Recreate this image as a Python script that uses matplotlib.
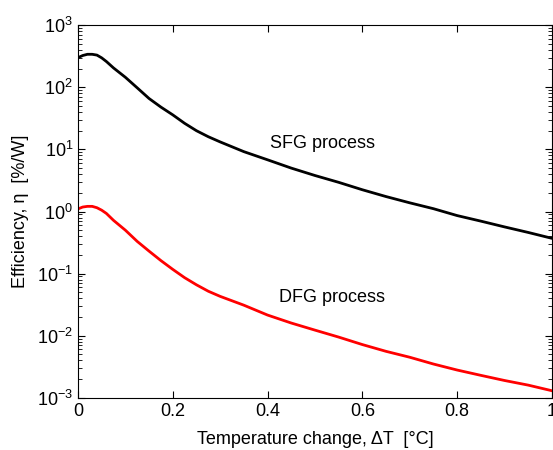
import matplotlib
matplotlib.use('Agg')
import matplotlib.pyplot as plt
from matplotlib.ticker import LogLocator, FixedLocator

plt.rcParams['font.family'] = ['Liberation Sans', 'DejaVu Sans']

# temperature change (deg C)
dT = [0, 0.01, 0.02, 0.03, 0.04, 0.05, 0.06, 0.075, 0.1, 0.125, 0.15, 0.175,
      0.2, 0.225, 0.25, 0.275, 0.3, 0.35, 0.4, 0.45, 0.5, 0.55, 0.6, 0.65,
      0.7, 0.75, 0.8, 0.85, 0.9, 0.95, 1.0]
# SFG efficiency (%/W)
sfg = [300, 325, 340, 340, 330, 298, 260, 205, 145, 98, 66, 48,
       36, 26.3, 20, 16, 13.2, 9.2, 6.8, 5.0, 3.8, 2.95, 2.24, 1.74,
       1.38, 1.11, 0.86, 0.70, 0.565, 0.46, 0.37]
# DFG efficiency (%/W)
dfg = [1.10, 1.18, 1.21, 1.21, 1.15, 1.05, 0.93, 0.72, 0.50, 0.33, 0.23, 0.162,
       0.117, 0.086, 0.066, 0.052, 0.043, 0.031, 0.0215, 0.016, 0.0123, 0.0095,
       0.0072, 0.0056, 0.0045, 0.0035, 0.0028, 0.0023, 0.0019, 0.0016, 0.0013]

fig = plt.figure(figsize=(5.53, 4.5), dpi=100)
ax = fig.add_axes([0.141, 0.116, 0.857, 0.828])

ax.semilogy(dT, sfg, color='black', lw=2)
ax.semilogy(dT, dfg, color='red', lw=2)

ax.set_xlim(0, 1)
ax.set_ylim(1e-3, 1e3)
ax.xaxis.set_major_locator(FixedLocator([0, 0.2, 0.4, 0.6, 0.8, 1.0]))
ax.set_xticklabels(['0', '0.2', '0.4', '0.6', '0.8', '1'])
ax.yaxis.set_major_locator(LogLocator(base=10, numticks=10))
ax.yaxis.set_minor_locator(LogLocator(base=10, subs=range(2, 10), numticks=100))

ax.tick_params(which='both', direction='in', top=True, right=True, labelsize=13)
ax.tick_params(which='major', length=5)
ax.tick_params(which='minor', length=3)

ax.text(0.405, 12.6, 'SFG process', fontsize=13, va='center')
ax.text(0.425, 0.041, 'DFG process', fontsize=13, va='center')

ax.set_xlabel('Temperature change, ΔT  [°C]', fontsize=13, labelpad=8)
ax.set_ylabel('Efficiency, η  [%/W]', fontsize=13, labelpad=6)

fig.savefig('out.png', dpi=100)
